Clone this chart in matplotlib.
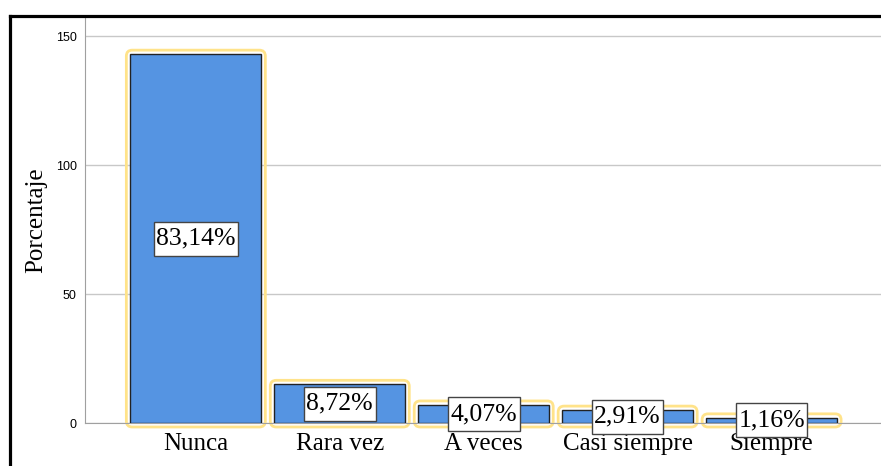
import matplotlib
matplotlib.use("Agg")
import matplotlib.pyplot as plt
from matplotlib.patches import FancyBboxPatch, Rectangle
from matplotlib.lines import Line2D

categorias = ["Nunca", "Rara vez", "A veces", "Casi siempre", "Siempre"]
frecuencias = [143, 15, 7, 5, 2]
etiquetas = ["83,14%", "8,72%", "4,07%", "2,91%", "1,16%"]
yticks = [0, 50, 100, 150]

W, H = 881, 466
fig = plt.figure(figsize=(W / 100, H / 100), dpi=100)
ax = fig.add_axes([85 / W, (H - 423) / H, 1 - 85 / W, (423 - 17) / H])

x = list(range(len(categorias)))
bars = ax.bar(x, frecuencias, width=0.91, color="#5594E2",
              edgecolor="#222222", linewidth=1.0, zorder=3)
ax.set_xlim(-0.77, 4.76)
ax.set_ylim(0, 157.4)

# aspect between x and y data units in pixels
p0 = ax.transData.transform((0, 0))
p1 = ax.transData.transform((1, 1))
pxx, pxy = p1[0] - p0[0], p1[1] - p0[1]
pad = 4 / pxx
for b in bars:
    hl = FancyBboxPatch((b.get_x(), 0), b.get_width(), b.get_height(),
                        boxstyle="round,pad=%f,rounding_size=%f" % (pad, 6 / pxx),
                        mutation_aspect=pxx / pxy,
                        facecolor="none", edgecolor="#FFE38A", linewidth=2.0,
                        zorder=2.5, clip_on=False)
    ax.add_patch(hl)

textos = []
for xi, h, lab in zip(x, frecuencias, etiquetas):
    t = ax.text(xi, h / 2, lab, ha="center", va="center", fontsize=18.5,
                family="Liberation Serif", zorder=6)
    textos.append((xi, h, t))

ax.set_yticks(yticks)
ax.set_yticklabels([str(t) for t in yticks], fontsize=9, family="Liberation Sans")
ax.set_xticks(x)
ax.set_xticklabels(categorias, fontsize=18, family="Liberation Serif")
ax.tick_params(axis="both", length=0)
ax.tick_params(axis="y", pad=6)
ax.tick_params(axis="x", pad=7)
ax.yaxis.grid(True, color="#C8C8C8", linewidth=1.0, zorder=0)
ax.set_axisbelow(True)
for s in ["top", "right"]:
    ax.spines[s].set_visible(False)
ax.spines["left"].set_color("#A0A0A0")
ax.spines["bottom"].set_color("#A0A0A0")
ax.set_ylabel("Porcentaje", fontsize=18, family="Liberation Serif", labelpad=6)

# cajas blancas de las etiquetas
fig.canvas.draw()
r = fig.canvas.get_renderer()
inv = ax.transData.inverted()
for xi, h, t in textos:
    bb = t.get_window_extent(r)
    cx, cy = ax.transData.transform((xi, h / 2))
    w = bb.width + 5
    hh = 34
    (x0, y0) = inv.transform((cx - w / 2, cy - hh / 2))
    (x1, y1) = inv.transform((cx + w / 2, cy + hh / 2))
    ax.add_patch(Rectangle((x0, y0), x1 - x0, y1 - y0, facecolor="white",
                           edgecolor="#444444", linewidth=1.0, zorder=5,
                           clip_on=False))

# marco negro exterior
fig.add_artist(Line2D([9.5 / W, 9.5 / W], [0, 1 - 15.5 / H], color="black",
                      linewidth=2.3, transform=fig.transFigure))
fig.add_artist(Line2D([9.5 / W, 1], [1 - 15.5 / H, 1 - 15.5 / H], color="black",
                      linewidth=2.3, transform=fig.transFigure))

fig.savefig("out.png", dpi=100)
